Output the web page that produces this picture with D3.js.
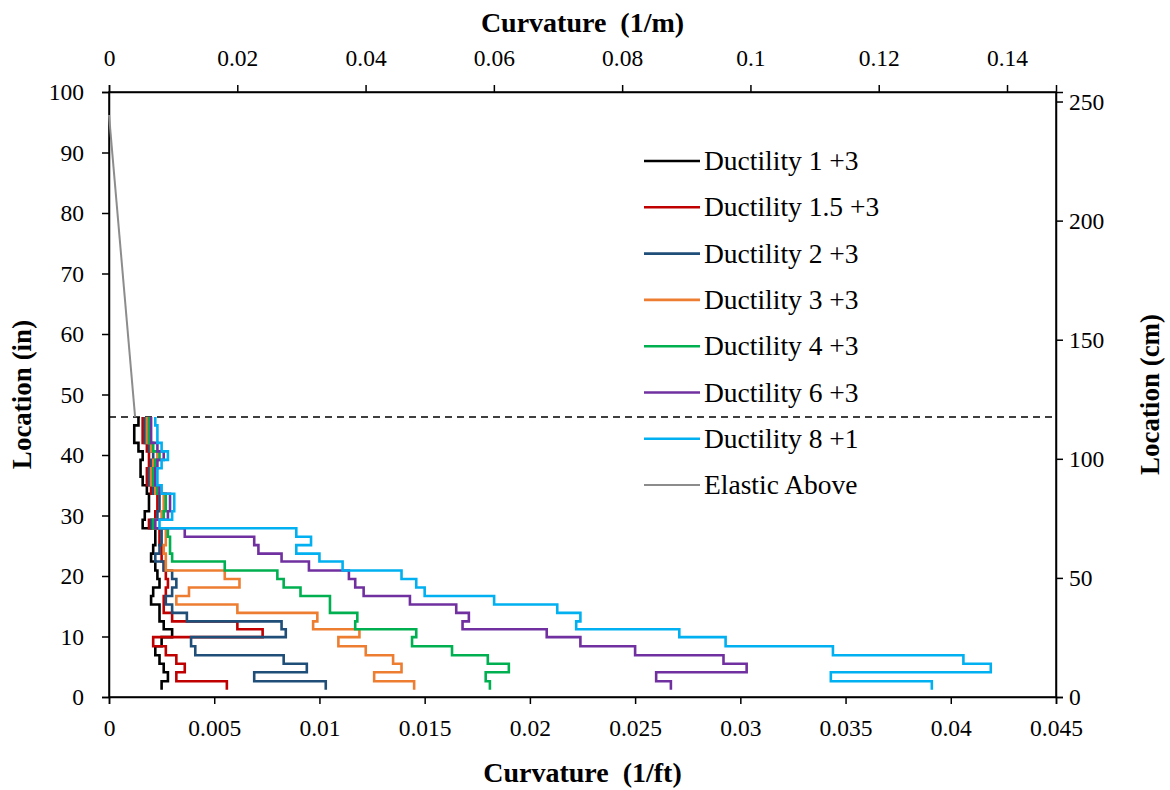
<!DOCTYPE html>
<html><head><meta charset="utf-8">
<script src="https://cdn.jsdelivr.net/npm/d3@7"></script>
<style>body{margin:0;background:#fff}svg{display:block}</style>
</head><body>
<svg id="chart" width="1170" height="790"></svg>
<script>
// ---- data ----
// element boundary locations (in), bottom to top
const locLevels = [1.2, 2.6, 4.1, 5.5, 6.9, 8.4, 9.9, 11.2, 12.5, 13.9, 15.3, 16.7, 18.1, 19.5, 20.9, 22.4, 23.7, 25.1, 26.5, 27.9, 29.3, 30.7, 32.1, 33.6, 35.0, 36.4, 37.8, 39.2, 40.6, 42.0, 43.5, 44.9, 46.3];
const seriesNames = ["Ductility 1 +3", "Ductility 1.5 +3", "Ductility 2 +3", "Ductility 3 +3", "Ductility 4 +3", "Ductility 6 +3", "Ductility 8 +1"];
// curvature (1/ft) per segment, bottom segment first
const duct1 = [0.0025, 0.0028, 0.0026, 0.0024, 0.0022, 0.0025, 0.0030, 0.0026, 0.0024, 0.0024, 0.0020, 0.0021, 0.0024, 0.0023, 0.0022, 0.0020, 0.0021, 0.0022, 0.0022, 0.0016, 0.0017, 0.0019, 0.0019, 0.0018, 0.0016, 0.0015, 0.0015, 0.0016, 0.0014, 0.0012, 0.0012, 0.0014];
const duct15 = [0.0056, 0.0032, 0.0036, 0.0032, 0.0027, 0.0021, 0.0073, 0.0061, 0.0030, 0.0026, 0.0026, 0.0027, 0.0028, 0.0027, 0.0026, 0.0025, 0.0025, 0.0024, 0.0024, 0.0019, 0.0022, 0.0023, 0.0023, 0.0020, 0.0018, 0.0018, 0.0019, 0.0019, 0.0018, 0.0016, 0.0016, 0.0016];
const duct2 = [0.0103, 0.0069, 0.0094, 0.0083, 0.0041, 0.0039, 0.0084, 0.0082, 0.0037, 0.0030, 0.0027, 0.0030, 0.0032, 0.0030, 0.0026, 0.0022, 0.0024, 0.0025, 0.0025, 0.0020, 0.0023, 0.0024, 0.0024, 0.0021, 0.0019, 0.0019, 0.0020, 0.0021, 0.0019, 0.0017, 0.0017, 0.0017];
const duct3 = [0.0145, 0.0126, 0.0139, 0.0135, 0.0122, 0.0109, 0.0119, 0.0097, 0.0099, 0.0061, 0.0032, 0.0038, 0.0062, 0.0055, 0.0027, 0.0027, 0.0026, 0.0027, 0.0027, 0.0021, 0.0025, 0.0026, 0.0026, 0.0022, 0.0020, 0.0020, 0.0021, 0.0023, 0.0020, 0.0018, 0.0018, 0.0018];
const duct4 = [0.0181, 0.0179, 0.0190, 0.0180, 0.0163, 0.0144, 0.0146, 0.0117, 0.0118, 0.0105, 0.0105, 0.0091, 0.0083, 0.0080, 0.0055, 0.0030, 0.0029, 0.0029, 0.0028, 0.0021, 0.0026, 0.0027, 0.0027, 0.0023, 0.0021, 0.0021, 0.0022, 0.0024, 0.0021, 0.0019, 0.0019, 0.0019];
const duct6 = [0.0267, 0.0260, 0.0303, 0.0292, 0.0250, 0.0224, 0.0208, 0.0168, 0.0171, 0.0165, 0.0143, 0.0121, 0.0117, 0.0114, 0.0095, 0.0082, 0.0071, 0.0069, 0.0036, 0.0022, 0.0028, 0.0029, 0.0029, 0.0024, 0.0022, 0.0022, 0.0023, 0.0026, 0.0023, 0.0020, 0.0020, 0.0020];
const duct8 = [0.0391, 0.0343, 0.0419, 0.0406, 0.0344, 0.0293, 0.0271, 0.0222, 0.0224, 0.0213, 0.0183, 0.0150, 0.0146, 0.0139, 0.0111, 0.0100, 0.0089, 0.0096, 0.0089, 0.0024, 0.0030, 0.0031, 0.0031, 0.0025, 0.0023, 0.0023, 0.0025, 0.0028, 0.0025, 0.0023, 0.0023, 0.0022];
const elasticCurv = [0, 0.00124];
const elasticLoc = [96.2, 46.3];
const dividerLoc = 46.3;
const seriesColors = ["#000000", "#C00000", "#1F4E79", "#ED7D31", "#00B050", "#7030A0", "#00B0F0"];
const bottomTicks = [0, 0.005, 0.01, 0.015, 0.02, 0.025, 0.03, 0.035, 0.04, 0.045];
const topTicks = [0, 0.02, 0.04, 0.06, 0.08, 0.1, 0.12, 0.14];
const leftTicks = [0, 10, 20, 30, 40, 50, 60, 70, 80, 90, 100];
const rightTicks = [0, 50, 100, 150, 200, 250];

// ---- chart ----
const svg = d3.select("#chart");
const L = 109, R = 1056, T = 92, B = 697;
const x = d3.scaleLinear().domain([0, 0.045]).range([L, R]);
const y = d3.scaleLinear().domain([0, 100]).range([B, T]);
const xTop = d3.scaleLinear().domain([0, 0.045 / 0.3048]).range([L, R]);
const yRight = d3.scaleLinear().domain([0, 100 * 2.54]).range([B, T]);

const font = "'Liberation Serif', 'Times New Roman', serif";
const fmt = d => d3.format("")(+d.toFixed(4));

function styleAxis(g) {
  g.selectAll("path").attr("stroke", "#000").attr("stroke-width", 1.5);
  g.selectAll("line").attr("stroke", "#000").attr("stroke-width", 1.5);
  g.selectAll("text").attr("font-family", font).attr("font-size", 23.5).attr("fill", "#000");
}
const gB = svg.append("g").attr("transform", `translate(0,${B})`)
  .call(d3.axisBottom(x).tickValues(bottomTicks).tickFormat(fmt).tickSizeOuter(0).tickSize(7).tickPadding(15));
styleAxis(gB);
const gT = svg.append("g").attr("transform", `translate(0,${T})`)
  .call(d3.axisTop(xTop).tickValues(topTicks).tickFormat(fmt).tickSizeOuter(0).tickSize(7).tickPadding(19));
styleAxis(gT);
const gL = svg.append("g").attr("transform", `translate(${L},0)`)
  .call(d3.axisLeft(y).tickValues(leftTicks).tickSizeOuter(0).tickSize(7).tickPadding(18));
styleAxis(gL);
const gR = svg.append("g").attr("transform", `translate(${R},0)`)
  .call(d3.axisRight(yRight).tickValues(rightTicks).tickSizeOuter(0).tickSize(7).tickPadding(6));
styleAxis(gR);
// frame edges
svg.append("rect").attr("x", L).attr("y", T).attr("width", R - L).attr("height", B - T)
  .attr("fill", "none").attr("stroke", "#000").attr("stroke-width", 1.5);

// divider dashed line
svg.append("line").attr("x1", x(0)).attr("x2", x(0.045)).attr("y1", y(dividerLoc)).attr("y2", y(dividerLoc))
  .attr("stroke", "#000").attr("stroke-width", 1.5).attr("stroke-dasharray", "7,5");

// elastic line
const line = d3.line().x(d => x(d[0])).y(d => y(d[1]));
svg.append("path").datum(elasticCurv.map((c, i) => [c, elasticLoc[i]]))
  .attr("d", line).attr("fill", "none").attr("stroke", "#8c8c8c").attr("stroke-width", 2);

// step series
const allSeries = [duct1, duct15, duct2, duct3, duct4, duct6, duct8];
allSeries.forEach((vals, s) => {
  const pts = [];
  for (let i = vals.length - 1; i >= 0; i--) {
    pts.push([vals[i], locLevels[i + 1]]);
    pts.push([vals[i], locLevels[i]]);
  }
  svg.append("path").datum(pts).attr("d", line).attr("fill", "none")
    .attr("stroke", seriesColors[s]).attr("stroke-width", 2.6).attr("stroke-linejoin", "miter");
});

// axis titles
svg.append("text").attr("x", (L + R) / 2).attr("y", 32).attr("text-anchor", "middle")
  .attr("font-family", font).attr("font-size", 28).attr("font-weight", "bold").attr("xml:space", "preserve")
  .text("Curvature  (1/m)");
svg.append("text").attr("x", (L + R) / 2).attr("y", 782).attr("text-anchor", "middle")
  .attr("font-family", font).attr("font-size", 28).attr("font-weight", "bold").attr("xml:space", "preserve")
  .text("Curvature  (1/ft)");
svg.append("text").attr("transform", `translate(31,${(T + B) / 2}) rotate(-90)`).attr("text-anchor", "middle")
  .attr("font-family", font).attr("font-size", 27).attr("font-weight", "bold")
  .text("Location (in)");
svg.append("text").attr("transform", `translate(1159,${(T + B) / 2}) rotate(-90)`).attr("text-anchor", "middle")
  .attr("font-family", font).attr("font-size", 27).attr("font-weight", "bold")
  .text("Location (cm)");

// legend
const legendItems = seriesNames.map((n, i) => ({name: n, color: seriesColors[i], w: 2.6}))
  .concat([{name: "Elastic Above", color: "#8c8c8c", w: 2}]);
const lg = svg.append("g");
legendItems.forEach((d, i) => {
  const yy = 161 + i * 46.3;
  lg.append("line").attr("x1", 644).attr("x2", 700).attr("y1", yy).attr("y2", yy)
    .attr("stroke", d.color).attr("stroke-width", d.w);
  lg.append("text").attr("x", 704).attr("y", yy + 9).attr("font-family", font).attr("font-size", 27.5)
    .attr("fill", "#000").text(d.name);
});
</script>
</body></html>
